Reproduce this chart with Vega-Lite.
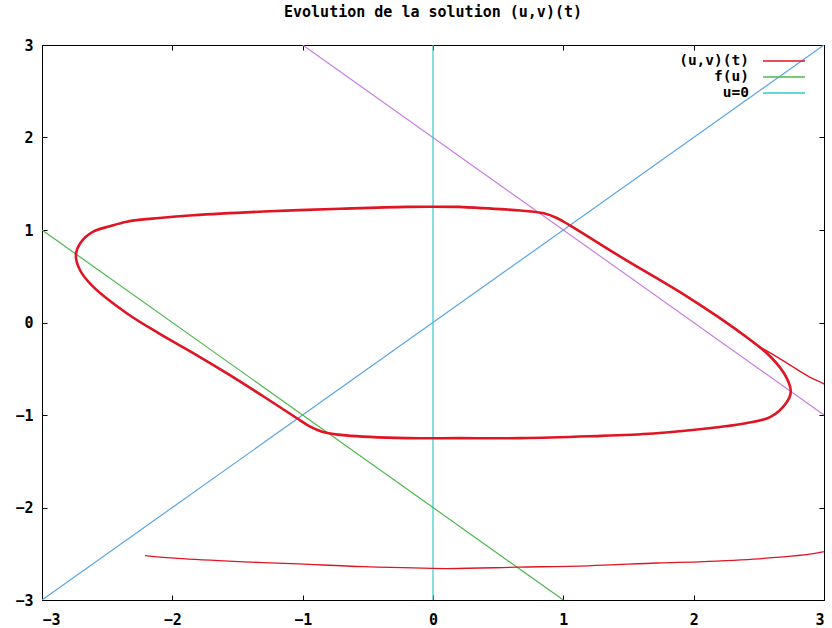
{
  "$schema": "https://vega.github.io/schema/vega-lite/v6.json",
  "width": 782,
  "height": 555,
  "autosize": {"type": "none"},
  "padding": {"left": 42, "top": 45, "right": 8, "bottom": 28},
  "background": "white",
  "title": {"text": "Evolution de la solution (u,v)(t)", "font": "DejaVu Sans Mono", "fontSize": 15, "fontWeight": "bold", "color": "#000", "offset": 18},
  "config": {
    "view": {"stroke": null},
    "axis": {"grid": false, "domainColor": "#000", "domainWidth": 1, "tickColor": "#000", "tickWidth": 1, "labelFont": "DejaVu Sans Mono", "labelFontSize": 15, "labelFontWeight": "bold", "labelColor": "#000", "title": null},
    "legend": {"labelFont": "DejaVu Sans Mono", "labelFontSize": 14.5, "labelFontWeight": "bold", "labelColor": "#000"}
  },
  "datasets": {
    "cycle": [
      {"i": 0, "u": 0.2, "v": 1.25}, {"i": 1, "u": 0.67, "v": 1.21}, {"i": 2, "u": 0.85, "v": 1.18}, {"i": 3, "u": 0.95, "v": 1.13},
      {"i": 4, "u": 1.05, "v": 1.05}, {"i": 5, "u": 1.44, "v": 0.71}, {"i": 6, "u": 1.95, "v": 0.28}, {"i": 7, "u": 2.33, "v": -0.08},
      {"i": 8, "u": 2.59, "v": -0.37}, {"i": 9, "u": 2.71, "v": -0.59}, {"i": 10, "u": 2.745, "v": -0.75}, {"i": 11, "u": 2.71, "v": -0.87},
      {"i": 12, "u": 2.59, "v": -1.02}, {"i": 13, "u": 2.4, "v": -1.09}, {"i": 14, "u": 2.2, "v": -1.13}, {"i": 15, "u": 1.69, "v": -1.2},
      {"i": 16, "u": 1.2, "v": -1.23}, {"i": 17, "u": 0.67, "v": -1.25}, {"i": 18, "u": 0.2, "v": -1.25}, {"i": 19, "u": -0.2, "v": -1.25},
      {"i": 20, "u": -0.67, "v": -1.22}, {"i": 21, "u": -0.85, "v": -1.18}, {"i": 22, "u": -0.95, "v": -1.12}, {"i": 23, "u": -1.05, "v": -1.03},
      {"i": 24, "u": -1.3, "v": -0.8}, {"i": 25, "u": -1.58, "v": -0.55}, {"i": 26, "u": -1.84, "v": -0.33}, {"i": 27, "u": -2.1, "v": -0.12},
      {"i": 28, "u": -2.35, "v": 0.1}, {"i": 29, "u": -2.61, "v": 0.39}, {"i": 30, "u": -2.71, "v": 0.57}, {"i": 31, "u": -2.74, "v": 0.73},
      {"i": 32, "u": -2.7, "v": 0.87}, {"i": 33, "u": -2.61, "v": 0.98}, {"i": 34, "u": -2.48, "v": 1.04}, {"i": 35, "u": -2.35, "v": 1.09},
      {"i": 36, "u": -2.1, "v": 1.13}, {"i": 37, "u": -1.84, "v": 1.16}, {"i": 38, "u": -1.3, "v": 1.2}, {"i": 39, "u": -0.71, "v": 1.23},
      {"i": 40, "u": -0.2, "v": 1.25}, {"i": 41, "u": 0.2, "v": 1.25}
    ],
    "transient": [
      {"i": 0, "u": -2.21, "v": -2.52}, {"i": 1, "u": -1.96, "v": -2.55}, {"i": 2, "u": -1.49, "v": -2.585}, {"i": 3, "u": -1.03, "v": -2.61},
      {"i": 4, "u": -0.53, "v": -2.64}, {"i": 5, "u": 0.11, "v": -2.66}, {"i": 6, "u": 0.65, "v": -2.645}, {"i": 7, "u": 1.19, "v": -2.63},
      {"i": 8, "u": 1.72, "v": -2.6}, {"i": 9, "u": 2.08, "v": -2.585}, {"i": 10, "u": 2.54, "v": -2.55}, {"i": 11, "u": 2.99, "v": -2.48},
      {"i": 12, "u": 3.25, "v": -2.35}, {"i": 13, "u": 3.45, "v": -1.6}, {"i": 14, "u": 3.3, "v": -0.93}, {"i": 15, "u": 3.0, "v": -0.665},
      {"i": 16, "u": 2.89, "v": -0.59}, {"i": 17, "u": 2.66, "v": -0.39}, {"i": 18, "u": 2.46, "v": -0.22}, {"i": 19, "u": 2.33, "v": -0.08},
      {"i": 20, "u": 1.95, "v": 0.28}
    ],
    "fu": [{"series": "f(u)", "u": -3, "v": 1}, {"series": "f(u)", "u": 1, "v": -3}],
    "u0": [{"series": "u=0", "u": 0, "v": -3}, {"series": "u=0", "u": 0, "v": 3}],
    "diag": [{"u": -3, "v": -3}, {"u": 3, "v": 3}],
    "anti": [{"u": -1, "v": 3}, {"u": 3, "v": -1}]
  },
  "layer": [
    {
      "data": {"name": "anti"},
      "mark": {"type": "line", "color": "#c87fe0", "strokeWidth": 1.2, "clip": true},
      "encoding": {
        "x": {"field": "u", "type": "quantitative", "scale": {"domain": [-3, 3], "nice": false, "zero": false}, "axis": {"orient": "top", "labels": false, "values": [-3, -2, -1, 0, 1, 2, 3], "tickSize": -5}},
        "y": {"field": "v", "type": "quantitative", "scale": {"domain": [-3, 3], "nice": false, "zero": false}, "axis": {"orient": "right", "labels": false, "values": [-3, -2, -1, 0, 1, 2, 3], "tickSize": -5}}
      }
    },
    {
      "data": {"name": "diag"},
      "mark": {"type": "line", "color": "#5aa6e0", "strokeWidth": 1.2, "clip": true},
      "encoding": {
        "x": {"field": "u", "type": "quantitative", "axis": {"orient": "bottom", "values": [-3, -2, -1, 0, 1, 2, 3], "tickSize": -5, "labelPadding": 17}},
        "y": {"field": "v", "type": "quantitative", "axis": {"orient": "left", "values": [-3, -2, -1, 0, 1, 2, 3], "tickSize": -5, "labelPadding": 14}}
      }
    },
    {
      "data": {"name": "u0"},
      "mark": {"type": "line", "strokeWidth": 1.2, "clip": true},
      "encoding": {
        "x": {"field": "u", "type": "quantitative", "axis": null},
        "y": {"field": "v", "type": "quantitative", "axis": null},
        "color": {"field": "series", "type": "nominal", "scale": {"domain": ["(u,v)(t)", "f(u)", "u=0"], "range": ["#e01423", "#4cb84c", "#33c9cf"]},
          "legend": {"title": null, "orient": "none", "legendX": 734, "legendY": 8, "symbolType": "M-3,0H3", "symbolSize": 196, "symbolStrokeWidth": 1.5, "labelAlign": "right", "labelOffset": -43, "labelLimit": 0, "rowPadding": 1, "padding": 0}}
      }
    },
    {
      "data": {"name": "fu"},
      "mark": {"type": "line", "strokeWidth": 1.2, "clip": true},
      "encoding": {
        "x": {"field": "u", "type": "quantitative", "axis": null},
        "y": {"field": "v", "type": "quantitative", "axis": null},
        "color": {"field": "series", "type": "nominal"}
      }
    },
    {
      "data": {"name": "transient"},
      "transform": [{"calculate": "'(u,v)(t)'", "as": "series"}],
      "mark": {"type": "line", "strokeWidth": 1.3, "clip": true, "interpolate": "catmull-rom"},
      "encoding": {
        "x": {"field": "u", "type": "quantitative", "axis": null},
        "y": {"field": "v", "type": "quantitative", "axis": null},
        "order": {"field": "i", "type": "quantitative"},
        "color": {"field": "series", "type": "nominal"}
      }
    },
    {
      "data": {"name": "cycle"},
      "transform": [{"calculate": "'(u,v)(t)'", "as": "series"}],
      "mark": {"type": "line", "strokeWidth": 2.6, "clip": true, "interpolate": "catmull-rom"},
      "encoding": {
        "x": {"field": "u", "type": "quantitative", "axis": null},
        "y": {"field": "v", "type": "quantitative", "axis": null},
        "order": {"field": "i", "type": "quantitative"},
        "color": {"field": "series", "type": "nominal"}
      }
    }
  ]
}
